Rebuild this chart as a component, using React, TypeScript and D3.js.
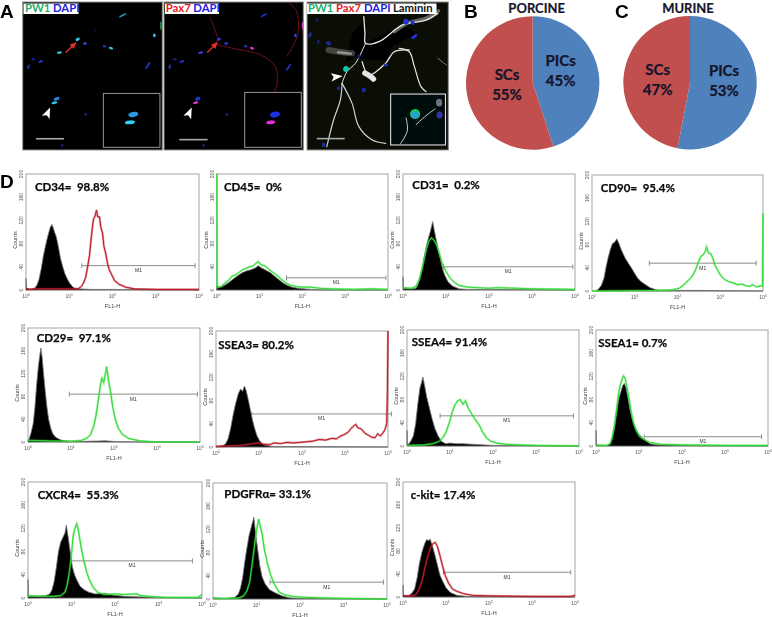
import * as d3 from 'd3';

type Pt = [number, number];

const LABEL_FONT = 'Lato, "Open Sans", sans-serif';
const AXIS_FONT = '"Liberation Sans", Arial, sans-serif';

// pie shares
const pieGroups = ['PICs', 'SCs'];
const porcineShares = [45, 55];
const murineShares = [53, 47];

// histogram axis
const yTicks = [0, 40, 80, 120, 160, 200];
const xDecades = [0, 1, 2, 3, 4];

// [log10 FL1-H, counts]
const cd34Control: Pt[] = [[0,20],[0.01,4],[.1,1],[.2,3],[.25,8],[.3,18],[.35,36],[.4,58],[.45,76],[.5,92],[.53,100],[.56,108],[.6,113],[.63,107],[.66,100],[.7,92],[.75,74],[.8,54],[.85,40],[.9,28],[.95,20],[1,13],[1.05,8],[1.1,4],[1.2,2],[1.5,1],[2,1],[4,0]];
const cd34Stained: Pt[] = [[0,1],[.2,2],[1,2],[1.2,2],[1.28,6],[1.33,12],[1.38,22],[1.42,38],[1.47,60],[1.5,84],[1.53,105],[1.56,122],[1.6,128],[1.63,138],[1.66,126],[1.7,126],[1.73,108],[1.77,98],[1.8,76],[1.84,64],[1.88,48],[1.92,36],[1.97,28],[2.05,16],[2.15,10],[2.3,5],[2.5,2],[3,1],[4,1]];
const cd45Control: Pt[] = [[0,6],[.1,5],[.2,9],[.3,14],[.4,20],[.5,25],[.6,30],[.7,33],[.8,35],[.9,38],[.97,42],[1.05,38],[1.15,34],[1.25,30],[1.35,24],[1.45,18],[1.55,12],[1.65,8],[1.75,5],[1.9,3],[2.2,1],[2.5,0],[4,0]];
const cd45Stained: Pt[] = [[0,200],[.005,200],[.01,4],[.1,6],[.18,11],[.28,17],[.36,24],[.44,26],[.52,30],[.6,35],[.68,37],[.76,40],[.84,41],[.92,46],[.97,49],[1.04,43],[1.12,42],[1.2,37],[1.3,31],[1.4,26],[1.5,19],[1.6,13],[1.7,9],[1.85,6],[2,5],[2.2,5],[2.4,3],[2.7,2],[3.2,1],[3.6,2],[4,1]];
const cd31Control: Pt[] = [[0,23],[.01,3],[.2,2],[.3,3],[.35,10],[.4,24],[.45,40],[.5,60],[.55,78],[.6,92],[.64,102],[.69,118],[.73,102],[.78,84],[.83,66],[.88,50],[.93,34],[.98,24],[1.05,14],[1.15,7],[1.3,2],[1.5,1],[4,0]];
const cd31Stained: Pt[] = [[0,4],[.2,3],[.3,6],[.38,18],[.45,38],[.5,56],[.55,72],[.6,84],[.66,90],[.72,86],[.78,78],[.85,62],[.92,44],[1,32],[1.08,22],[1.18,14],[1.3,8],[1.5,5],[2,3],[2.2,4],[3,2],[4,1]];
const cd90Control: Pt[] = [[.1,1],[.15,3],[.22,10],[.28,22],[.33,42],[.38,58],[.43,72],[.48,82],[.53,84],[.58,90],[.63,82],[.68,72],[.73,64],[.78,56],[.85,48],[.92,40],[1,30],[1.07,22],[1.15,16],[1.25,11],[1.35,6],[1.5,2],[1.7,1],[2.5,1],[4,0]];
const cd90Stained: Pt[] = [[0,0],[1.6,1],[1.9,2],[2.05,5],[2.15,11],[2.25,18],[2.35,26],[2.42,36],[2.5,52],[2.55,60],[2.6,62],[2.65,68],[2.68,76],[2.72,66],[2.78,64],[2.82,58],[2.88,44],[2.95,34],[3.02,26],[3.1,20],[3.2,16],[3.3,14],[3.4,11],[3.5,12],[3.6,9],[3.7,8],[3.75,11],[3.85,7],[3.95,9],[3.99,8],[4,134]];
const cd29Control: Pt[] = [[0,2],[.03,6],[.07,16],[.12,32],[.16,60],[.2,100],[.24,132],[.27,150],[.3,165],[.33,148],[.36,122],[.4,90],[.44,62],[.48,40],[.53,24],[.58,14],[.65,8],[.75,4],[.85,2],[1.2,1],[1.8,2],[2,1],[2.5,0],[4,0]];
const cd29Stained: Pt[] = [[0,3],[.5,2],[1,1],[1.25,3],[1.35,6],[1.45,12],[1.53,28],[1.58,46],[1.63,70],[1.68,98],[1.72,112],[1.76,104],[1.8,120],[1.83,132],[1.87,108],[1.92,88],[1.97,62],[2.03,40],[2.1,24],[2.2,13],[2.35,6],[2.6,2],[3,0],[4,0]];
const ssea3Control: Pt[] = [[0,1],[.15,2],[.22,5],[.28,14],[.34,32],[.4,56],[.46,76],[.52,92],[.57,100],[.62,96],[.66,105],[.7,98],[.75,82],[.8,64],[.85,46],[.9,32],[.95,20],[1.02,10],[1.1,4],[1.3,1],[4,0]];
const ssea3Stained: Pt[] = [[0,1],[.3,2],[.6,3],[.8,5],[.98,7],[1.1,5],[1.25,4],[1.35,7],[1.5,6],[1.65,8],[1.8,7],[1.95,8],[2.1,9],[2.25,10],[2.4,13],[2.55,12],[2.7,15],[2.8,14],[2.9,19],[3,22],[3.08,26],[3.14,32],[3.2,36],[3.25,39],[3.3,33],[3.38,31],[3.46,24],[3.55,20],[3.62,17],[3.7,16],[3.76,23],[3.82,19],[3.88,24],[3.93,30],[3.97,40],[3.985,90],[4,200]];
const ssea4Control: Pt[] = [[0,27],[.01,3],[.05,4],[.1,10],[.15,18],[.2,38],[.25,72],[.3,100],[.34,110],[.37,119],[.41,104],[.46,84],[.52,66],[.58,48],[.65,30],[.72,18],[.8,8],[.9,4],[1,5],[1.15,4],[1.3,4],[1.5,3],[1.75,2],[2,1],[4,0]];
const ssea4Stained: Pt[] = [[0,1],[.4,2],[.6,4],[.75,8],[.85,16],[.92,26],[1,44],[1.05,58],[1.12,72],[1.18,78],[1.24,80],[1.3,72],[1.36,78],[1.42,66],[1.5,56],[1.6,44],[1.68,36],[1.76,24],[1.85,14],[1.95,8],[2.1,5],[2.3,3],[2.6,2],[3,1],[4,0]];
const ssea1Control: Pt[] = [[0,27],[.01,2],[.25,1],[.33,4],[.38,14],[.43,32],[.48,58],[.53,82],[.58,94],[.62,104],[.66,108],[.7,100],[.75,80],[.8,60],[.86,42],[.92,30],[1,20],[1.08,14],[1.15,10],[1.25,4],[1.4,2],[2,1],[4,0]];
const ssea1Stained: Pt[] = [[0,1],[.25,1],[.33,4],[.38,16],[.43,36],[.48,64],[.52,88],[.56,104],[.6,114],[.64,121],[.68,116],[.72,102],[.77,82],[.82,58],[.88,38],[.94,26],[1.02,16],[1.12,11],[1.25,6],[1.5,3],[2,2],[3,1],[4,1]];
const cxcr4Control: Pt[] = [[0,32],[.01,3],[.2,3],[.4,4],[.5,7],[.55,14],[.6,28],[.65,52],[.7,80],[.75,96],[.8,104],[.85,112],[.88,126],[.93,102],[.97,80],[1.02,54],[1.07,40],[1.13,30],[1.2,20],[1.3,14],[1.4,10],[1.55,7],[1.75,8],[1.95,5],[2.2,3],[2.5,2],[3,1],[4,0]];
const cxcr4Stained: Pt[] = [[0,4],[.3,3],[.6,3],[.75,4],[.85,10],[.9,22],[.95,44],[1,76],[1.04,108],[1.08,120],[1.12,128],[1.16,116],[1.22,88],[1.28,66],[1.35,44],[1.42,30],[1.5,18],[1.6,10],[1.75,6],[2,7],[2.2,6],[2.5,7],[2.6,4],[2.9,2],[3.2,1],[3.9,1],[4,6]];
const pdgfrControl: Pt[] = [[0,2],[.3,1],[.5,3],[.58,8],[.63,18],[.68,36],[.73,64],[.78,88],[.83,110],[.88,124],[.94,141],[.98,112],[1.03,84],[1.08,56],[1.13,38],[1.2,26],[1.3,16],[1.45,10],[1.6,5],[1.75,2],[2,1],[4,0]];
const pdgfrStained: Pt[] = [[0,1],[.4,1],[.6,2],[.7,5],[.78,14],[.84,28],[.9,60],[.95,90],[1,118],[1.05,138],[1.09,124],[1.13,112],[1.18,86],[1.25,62],[1.33,40],[1.42,24],[1.52,12],[1.65,7],[1.85,4],[2.1,3],[2.5,2],[3,1],[4,0]];
const ckitControl: Pt[] = [[0,21],[.01,3],[.12,2],[.2,6],[.27,14],[.33,34],[.38,58],[.44,78],[.5,92],[.55,100],[.6,98],[.63,101],[.68,90],[.74,74],[.8,56],[.86,38],[.92,28],[1,16],[1.1,8],[1.25,3],[1.5,1],[4,0]];
const ckitStained: Pt[] = [[0,2],[.2,2],[.3,4],[.38,14],[.45,30],[.52,54],[.58,72],[.64,86],[.7,93],[.75,95],[.8,88],[.86,72],[.92,54],[.98,38],[1.06,24],[1.15,14],[1.25,10],[1.4,6],[1.6,3],[2,2],[3,1],[3.9,1],[4,3]];

const GREEN = '#2fdc34';
const RED = '#bd1a28';

// name, control, stained, colour, M1 gate [from, to, counts], box [x0,x1,y0,y1], label [x,y]
const histograms: any[] = [
  ['CD34=  98.8%', cd34Control, cd34Stained, RED, [1.29, 3.91, 42], [26, 199, 174, 290], [35, 187]],
  ['CD45=  0%', cd45Control, cd45Stained, GREEN, [1.63, 3.95, 21], [216.7, 388, 174, 290], [224, 187]],
  ['CD31=  0.2%', cd31Control, cd31Stained, GREEN, [.94, 3.95, 40], [403, 575, 174, 290], [412.3, 185]],
  ['CD90=  95.4%', cd90Control, cd90Stained, GREEN, [1.34, 3.84, 48], [592, 763, 175, 291], [600.7, 188]],
  ['CD29=  97.1%', cd29Control, cd29Stained, GREEN, [.96, 3.94, 84], [28, 200, 328, 442], [36.7, 338.3]],
  ['SSEA3= 80.2%', ssea3Control, ssea3Stained, RED, [.83, 4.08, 57], [216, 388, 331, 447], [218.3, 345]],
  ['SSEA4= 91.4%', ssea4Control, ssea4Stained, GREEN, [.77, 3.87, 52], [407, 579, 330, 446], [411.7, 341.7]],
  ['SSEA1= 0.7%', ssea1Control, ssea1Stained, GREEN, [1.12, 3.85, 16], [596, 768, 330, 446], [598.3, 343.3]],
  ['CXCR4=  55.3%', cxcr4Control, cxcr4Stained, GREEN, [1.0, 3.78, 64], [28, 202, 482, 598], [37.7, 495]],
  ['PDGFRα= 33.1%', pdgfrControl, pdgfrStained, GREEN, [1.31, 3.92, 29], [213, 387, 483, 599], [224.3, 494]],
  ['c-kit= 17.4%', ckitControl, ckitStained, RED, [.94, 3.9, 43], [403, 575, 482, 597], [410.7, 495.3]],
];

// micrograph contents in percent of the image: u, v, rx, ry, angle, colour
const CY = '#35c8e8';
const BL = '#2430d8';
const DB = '#141c80';
const MG = '#e030c8';
const pw1Nuclei: any[] = [[39.4,25.2,1.6,1,-30,CY],[44.6,28.1,1.3,.9,0,'#2a50d0'],[26.3,34.2,1.7,.8,-10,CY],[58.5,29.9,1.2,.9,0,'#2038b0'],[63.2,31.2,1.6,.8,20,CY],[71.6,9,3,.6,-30,'#2090c0'],[94.3,22.5,.9,1.3,0,CY],[12.9,40.2,1.7,.8,-20,'#2040d0'],[7.6,38.7,1.4,.8,0,DB],[4.1,43.8,.8,1.6,20,'#2038a0'],[89.5,43.1,.7,3,35,'#2038c0'],[24.3,65.4,2.2,1.1,-20,'#2a80e0'],[22.7,68.1,2.1,.9,-10,CY],[45.1,76,1,1,0,DB],[28.4,97,.8,1.2,20,DB],[51.8,19.1,.6,.6,0,DB],[99,16,.5,3,0,'#28a850']];
const pax7Nuclei: any[] = [[39.4,25.2,1.5,1,-30,'#4030c0'],[44.6,28.1,1.4,1,0,BL],[26.3,34.2,1.8,.8,-10,'#5030e0'],[58.5,29.9,1.2,.9,0,'#2038b0'],[63.2,31.2,1.5,.9,20,MG],[71.6,9,2.6,.6,-30,'#2030c0'],[94.3,22.5,.9,1.3,0,'#3040d0'],[12.9,40.2,1.7,.8,-20,BL],[7.6,38.7,1.4,.8,0,DB],[4.1,43.8,.8,1.6,20,'#2038a0'],[89.5,44,.7,3,35,'#2030b0'],[24.3,65.4,2,1.2,-20,BL],[22.7,68.1,1.9,.9,-10,MG],[45.1,76,1.1,1.1,0,DB],[28.4,97,.9,1.2,20,DB],[99.5,16,.6,2.5,0,MG]];
const lamininNuclei: any[] = [[70,13.3,2,2,0,BL],[74.8,14,1.4,1.5,0,'#2030c0'],[76,23.4,2.4,1,-40,BL],[2.1,22.3,1,2,20,'#1c2ca0'],[15.2,27.9,1.8,1.2,20,'#1c2ca0'],[8,26.8,1,1.4,30,DB],[36.7,36.9,1,1.5,0,DB],[55.7,42.6,1.6,1,0,'#2038b0'],[40.2,59.5,1.5,1.5,0,'#1c2ca0'],[22.4,58.3,1.2,1.2,0,'#1c2ca0'],[11.7,96.6,1.2,1.6,0,'#1c2ca0'],[7,12,.8,1.4,0,DB],[27.6,45.3,2,2,20,'#18c8b0']];
// [width, opacity, points]
const lamininPaths: [number, number, Pt[]][] = [
  [1.3, 1, [[40.2,9.9],[41,21.2],[41.4,27.9],[51,26.8],[67.6,15.5],[84.3,12.2],[92.6,7.7]]],
  [3.5, .4, [[62,20],[72,14],[84,11],[93,6]]],
  [1.3, 1, [[39,40.3],[43.8,49.3],[55.7,41.4],[61.7,33.6],[72.4,32.4]]],
  [5.5, 1, [[41,48],[44.5,50],[47,52]]],
  [1.2, 1, [[65.2,31.3],[72.4,33.6],[76,43.7],[80.7,57.2],[84.3,60.6]]],
  [.7, .7, [[92.6,38],[98.6,42.6]]],
  [1.2, .9, [[24.8,55],[23.6,66.2],[18.8,79.7],[14,97.7]]],
  [1.2, .9, [[24.8,55],[31.9,68.5],[36.7,84.2],[46.2,93.2],[55.7,95.5]]],
  [1, 1, [[41.4,27.9],[34.3,41.4],[28.3,47],[24.8,55]]],
  [6, .25, [[15.2,32.4],[22.4,33.6],[31.9,34.7]]],
  [2.5, .5, [[22,34],[31,35]]],
];
const insetPaths: Pt[][] = [
  [[70,78],[71,87],[66,96]],
  [[77,83],[84,77],[91,72]],
];
const lamininShadow: Pt[] = [[31.9,21.2],[40.2,12.2],[41.4,27.9],[60.5,18.9],[70,16.7],[77.1,21.2],[60.5,30.2],[55.7,39.2],[41.4,39.2],[34.3,36.9],[27.1,41.4],[29.5,32.4]];
const pax7Fibres: Pt[][] = [
  [[33,10],[37,20],[38.5,25],[37,28],[48,31],[70,36],[80,44],[81,56],[78,63]],
  [[90,1],[95,6],[96,22],[88,37]],
];

const pctX = (box: number[]) => d3.scaleLinear().domain([0, 100]).range([box[0], box[1]]);
const pctY = (box: number[]) => d3.scaleLinear().domain([0, 100]).range([box[2], box[3]]);

const pieArc = d3.arc<d3.PieArcDatum<number>>().innerRadius(0);
const sharePie = d3.pie<number>().sort(null);

const Pie = ({ shares, cx, cy, r, labels }: any) => (
  <g transform={`translate(${cx},${cy})`}>
    <g filter="url(#soft)">
      {sharePie(shares).map((d, i) => (
        <path key={i} d={pieArc.outerRadius(r)(d) as string} fill={i === 0 ? '#4f81bd' : '#c0504d'} />
      ))}
    </g>
    {pieGroups.map((name, i) => (
      <text key={name} x={labels[i][0] - cx} textAnchor="middle" fontFamily={LABEL_FONT} fontWeight={700} fontSize={15} fill="#14142a" stroke="#14142a" strokeWidth={0.25}>
        <tspan y={labels[i][1] - cy + 5.5}>{name}</tspan>
        <tspan x={labels[i][0] - cx} y={labels[i][1] - cy + 26}>{shares[i]}%</tspan>
      </text>
    ))}
  </g>
);

const Histogram = ({ spec }: any) => {
  const [name, control, stained, colour, gate, box, label] = spec;
  const x = d3.scaleLinear().domain([0, 4]).range([box[0], box[1]]);
  const y = d3.scaleLinear().domain([0, 200]).range([box[3], box[2]]);
  const area = d3.area<Pt>().x(d => x(d[0])).y0(y(0)).y1(d => y(d[1]));
  const line = d3.line<Pt>().x(d => x(d[0])).y(d => y(d[1]));
  const midX = (box[0] + box[1]) / 2;
  const gateY = y(gate[2]);
  return (
    <g>
      <g filter="url(#soft)">
        <rect x={box[0]} y={box[2]} width={box[1] - box[0]} height={box[3] - box[2]} fill="#fff" stroke="#a4a4a4" strokeWidth={1} />
        <path d={area(control) as string} fill="#000" stroke="#777" strokeWidth={0.8} />
        <line x1={x(gate[0])} x2={x(gate[1])} y1={gateY} y2={gateY} stroke="#8c8c8c" strokeWidth={1} />
        <line x1={x(gate[0])} x2={x(gate[0])} y1={gateY - 2.5} y2={gateY + 2.5} stroke="#777" strokeWidth={0.8} />
        <line x1={x(gate[1])} x2={x(gate[1])} y1={gateY - 2.5} y2={gateY + 2.5} stroke="#777" strokeWidth={0.8} />
        <path d={line(stained) as string} fill="none" stroke={colour} strokeOpacity={0.45} strokeWidth={2.2} />
        <path d={line(stained) as string} fill="none" stroke={colour} strokeWidth={1} />
        <text x={x((gate[0] + gate[1]) / 2)} y={gateY + 6.5} textAnchor="middle" fontFamily={AXIS_FONT} fontSize={5} fill="#333">M1</text>
        {yTicks.map(t => (
          <text key={t} transform={`translate(${box[0] - 3},${y(t)}) rotate(-90)`} textAnchor="middle" fontFamily={AXIS_FONT} fontSize={5} fill="#555">{t}</text>
        ))}
        {xDecades.map(t => (
          <text key={t} x={x(t)} y={box[3] + 7.5} textAnchor="middle" fontFamily={AXIS_FONT} fontSize={5} fill="#555">
            10<tspan dy={-1.5} fontSize={3.5}>{t}</tspan>
          </text>
        ))}
        <text transform={`translate(${box[0] - 9},${(box[2] + box[3]) / 2 + 8}) rotate(-90)`} textAnchor="middle" fontFamily={AXIS_FONT} fontSize={5.5} fill="#444">Counts</text>
        <text x={midX} y={box[3] + 17.5} textAnchor="middle" fontFamily={AXIS_FONT} fontSize={5.5} fill="#444">FL1-H</text>
      </g>
      <text x={label[0]} y={label[1] + 4} fontFamily={LABEL_FONT} fontWeight={700} fontSize={11.5} fill="#0a0a0a" stroke="#0a0a0a" strokeWidth={0.25} xmlSpace="preserve">{name}</text>
    </g>
  );
};

const Arrowhead = ({ tip, base, x, y }: any) => {
  const dx = x(tip[0]) - x(base[0]);
  const dy = y(tip[1]) - y(base[1]);
  const len = Math.hypot(dx, dy);
  const nx = -dy / len * 4.2;
  const ny = dx / len * 4.2;
  const bx = x(base[0]);
  const by = y(base[1]);
  return (
    <path
      d={`M${x(tip[0])},${y(tip[1])}L${bx + nx},${by + ny}L${bx + dx * .22},${by + dy * .22}L${bx - nx},${by - ny}Z`}
      fill="#fff"
    />
  );
};

const RedArrow = ({ tail, tip, x, y }: any) => {
  const ang = Math.atan2(y(tip[1]) - y(tail[1]), x(tip[0]) - x(tail[0])) * 180 / Math.PI;
  return (
    <g>
      <line x1={x(tail[0])} y1={y(tail[1])} x2={x(tip[0])} y2={y(tip[1])} stroke="#e8302c" strokeWidth={1.4} />
      <path d="M0,0L-6,-3L-6,3Z" fill="#e8302c" transform={`translate(${x(tip[0])},${y(tip[1])}) rotate(${ang})`} />
    </g>
  );
};

const Nuclei = ({ cells, x, y }: any) => (
  <>
    {cells.map((c: any, i: number) => (
      <ellipse key={i} cx={x(c[0])} cy={y(c[1])} rx={x(c[2]) - x(0)} ry={y(c[3]) - y(0)}
        transform={`rotate(${c[4]},${x(c[0])},${y(c[1])})`} fill={c[5]} />
    ))}
  </>
);

const Micrograph = ({ box, fill, children }: any) => (
  <g>
    <rect x={box[0]} y={box[2]} width={box[1] - box[0]} height={box[3] - box[2]} fill={fill} />
    {children}
    <rect x={box[0]} y={box[2]} width={box[1] - box[0]} height={box[3] - box[2]} fill="none" stroke="#8f8f8f" strokeWidth={1} />
  </g>
);

const ScaleBar = ({ from, to, v, x, y }: any) => (
  <line x1={x(from)} x2={x(to)} y1={y(v)} y2={y(v)} stroke="#a8a8a8" strokeWidth={1.6} />
);

const Inset = ({ r, stroke, fill, x, y }: any) => (
  <rect x={x(r[0])} y={y(r[1])} width={x(r[2]) - x(r[0])} height={y(r[3]) - y(r[1])} fill={fill ?? '#000'} stroke={stroke} strokeWidth={1.1} />
);

const Stain = ({ from, w, parts }: any) => (
  <g>
    <rect x={from} y={3.5} width={w} height={10.5} fill="#fff" />
    <text y={12.4} fontFamily={LABEL_FONT} fontWeight={700} fontSize={11.3}>
      {parts.map((p: any) => <tspan key={p[0]} x={p[2]} fill={p[1]}>{p[0]}</tspan>)}
    </text>
  </g>
);

const PW1 = '#1fae6a';
const DAPI = '#2020e0';
const PAX = '#e81c24';

const App = () => {
  const b1 = [22.7, 162.3, 2, 150];
  const b2 = [164, 303.3, 2, 150];
  const b3 = [307, 448.3, 2, 150];
  const [x1, y1] = [pctX(b1), pctY(b1)];
  const [x2, y2] = [pctX(b2), pctY(b2)];
  const [x3, y3] = [pctX(b3), pctY(b3)];
  const curve = d3.line<Pt>().curve(d3.curveCatmullRom.alpha(.5));
  const at = (x: any, y: any) => (p: Pt[]) => p.map(d => [x(d[0]), y(d[1])] as Pt);

  return (
    <svg width={772} height={617} style={{ position: 'absolute', left: 0, top: 0, background: '#fff' }}>
      <defs>
        <filter id="soft" x="-5%" y="-5%" width="110%" height="110%"><feGaussianBlur stdDeviation="0.35" /></filter>
        <filter id="micro" x="-5%" y="-5%" width="110%" height="110%"><feGaussianBlur stdDeviation="0.55" /></filter>
      </defs>

      {/* A: micrographs */}
      <Micrograph box={b1} fill="#000">
        <g filter="url(#micro)">
          <Nuclei cells={pw1Nuclei} x={x1} y={y1} />
          <Inset r={[57.8, 61.8, 98.3, 98.2]} stroke="#8a8a8a" x={x1} y={y1} />
          <Nuclei cells={[[79.2, 76, 3.6, 1.7, -10, '#2a9ae8'], [76.8, 81.3, 3.6, 1.3, -5, '#30d0f0']]} x={x1} y={y1} />
          <ScaleBar from={9.5} to={29.5} v={92.4} x={x1} y={y1} />
        </g>
        <RedArrow tail={[30.8, 34.2]} tip={[38.2, 27.4]} x={x1} y={y1} />
        <Arrowhead tip={[19.6, 71.2]} base={[16.5, 78]} x={x1} y={y1} />
      </Micrograph>
      <Micrograph box={b2} fill="#000">
        <g filter="url(#micro)">
          {pax7Fibres.map((p, i) => (
            <path key={i} d={curve(at(x2, y2)(p)) as string} fill="none" stroke="#701418" strokeWidth={1} />
          ))}
          <Nuclei cells={pax7Nuclei} x={x2} y={y2} />
          <Inset r={[57.9, 61.1, 98.6, 98.2]} stroke="#8a8a8a" x={x2} y={y2} />
          <Nuclei cells={[[79.7, 76, 3.6, 1.9, -10, '#1c30e8'], [76.6, 81.3, 3.2, 1.3, -5, '#e030d8']]} x={x2} y={y2} />
          <ScaleBar from={11} to={31.3} v={93} x={x2} y={y2} />
        </g>
        <RedArrow tail={[31, 34.2]} tip={[38.4, 27.4]} x={x2} y={y2} />
        <Arrowhead tip={[19.9, 71.2]} base={[16.7, 78]} x={x2} y={y2} />
      </Micrograph>
      <Micrograph box={b3} fill="#0b0e05">
        <g filter="url(#micro)">
          <path d={d3.line<Pt>().curve(d3.curveLinearClosed)(at(x3, y3)(lamininShadow)) as string} fill="#000" />
          {lamininPaths.map(([w, o, p], i) => (
            <path key={i} d={curve(at(x3, y3)(p)) as string} fill="none" stroke="#e6e6e6" strokeOpacity={o} strokeWidth={w} strokeLinecap="round" />
          ))}
          <Nuclei cells={lamininNuclei} x={x3} y={y3} />
          <Inset r={[59.2, 62.2, 98, 96.6]} stroke="#e0e0e0" fill="#06080a" x={x3} y={y3} />
          {insetPaths.map((p, i) => (
            <path key={i} d={curve(at(x3, y3)(p)) as string} fill="none" stroke="#d0d0d0" strokeWidth={1} />
          ))}
          <Nuclei cells={[[76.5, 75.7, 3.6, 3.4, 20, '#18c860'], [76.5, 76.4, 2.4, 2.4, 20, '#2a9ce0'], [93.8, 76.4, 2.2, 2.4, 0, '#3434a0'], [93.5, 68, 2.2, 2.6, 0, '#70707e']]} x={x3} y={y3} />
          <ScaleBar from={6.9} to={26.7} v={92.3} x={x3} y={y3} />
        </g>
        <Arrowhead tip={[25.2, 50]} base={[17.1, 50.9]} x={x3} y={y3} />
      </Micrograph>

      <Stain from={23.5} w={55} parts={[['PW1', PW1, 25], ['DAPI', DAPI, 53]]} />
      <Stain from={165} w={54} parts={[['Pax7', PAX, 165.7], ['DAPI', DAPI, 193.3]]} />
      <Stain from={307} w={129.5} parts={[['PW1', PW1, 308], ['Pax7', PAX, 336], ['DAPI', DAPI, 364], ['Laminin', '#111', 393]]} />

      {/* B, C: pies */}
      <Pie shares={porcineShares} cx={532.7} cy={83} r={66.7} labels={[[560.7, 60], [507, 74]]} />
      <Pie shares={murineShares} cx={690} cy={82.7} r={66.7} labels={[[724, 70], [657.7, 69]]} />
      <text x={536.7} y={13} textAnchor="middle" fontFamily={LABEL_FONT} fontWeight={700} fontSize={13} fill="#16162a" stroke="#16162a" strokeWidth={0.2}>PORCINE</text>
      <text x={688} y={13} textAnchor="middle" fontFamily={LABEL_FONT} fontWeight={700} fontSize={13} fill="#16162a" stroke="#16162a" strokeWidth={0.2}>MURINE</text>

      {/* D: flow histograms */}
      {histograms.map(h => <Histogram key={h[0]} spec={h} />)}

      {[['A', 0, 17.5], ['B', 464, 17.5], ['C', 615, 17.5], ['D', 0, 187.5]].map(([t, x, y]) => (
        <text key={t as string} x={x as number} y={y as number} fontFamily={AXIS_FONT} fontWeight={700} fontSize={19} fill="#000">{t}</text>
      ))}
    </svg>
  );
};

export default App;
